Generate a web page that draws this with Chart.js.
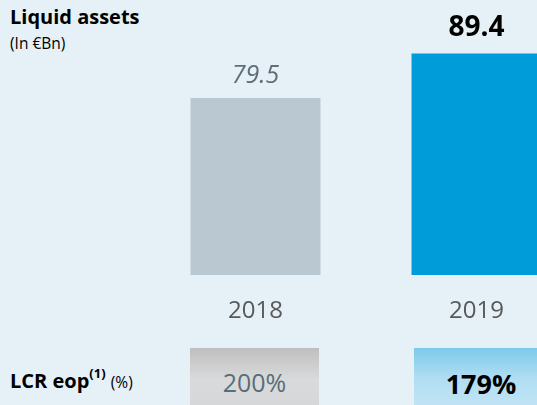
<!DOCTYPE html>
<html>
<head>
<meta charset="utf-8">
<script src="https://cdn.jsdelivr.net/npm/chart.js@4.4.1/dist/chart.umd.min.js"></script>
<style>
    html, body {
        margin: 0;
        padding: 0;
        width: 537px;
        height: 405px;
        overflow: hidden;
        background: #e6f0f7;
        font-family: "Open Sans", sans-serif;
    }
    .title {
        position: absolute;
        left: 10px;
        top: 7px;
        font-size: 20px;
        line-height: 20px;
        font-weight: bold;
        color: #000;
    }
    .unit {
        position: absolute;
        left: 10px;
        top: 35px;
        font-size: 15.5px;
        line-height: 16px;
        color: #000;
    }
    #chartBox {
        position: absolute;
        left: 145px;
        top: 0;
        width: 442px;
        height: 330px;
    }
    .lcrLabel {
        position: absolute;
        left: 10px;
        top: 365px;
        font-size: 20px;
        line-height: 20px;
        font-weight: bold;
        color: #000;
        white-space: nowrap;
    }
    .lcrLabel sup {
        font-size: 13px;
        position: relative;
        top: -2px;
    }
    .lcrLabel .pct {
        font-size: 15.5px;
        font-weight: normal;
    }
    .lcrBox {
        position: absolute;
        top: 348px;
        height: 70px;
        text-align: center;
        white-space: nowrap;
    }
    .lcrBox span {
        position: absolute;
        left: 0;
        right: 0;
        top: 17px;
        line-height: 25px;
    }
</style>
</head>
<body>
<div class="title">Liquid assets</div>
<div class="unit">(In €Bn)</div>
<div id="chartBox"><canvas id="liquidChart"></canvas></div>
<div class="lcrLabel">LCR eop<sup>(1)</sup> <span class="pct">(%)</span></div>
<div id="lcrRow"></div>

<script>
// ===== 数据 =====
const years = ['2018', '2019'];
const liquidAssets = [79.5, 89.4];
const lcrValues = [200, 179];

// ===== 样式 =====
const barColors = ['#bac8d1', '#009bd9'];
const valueFonts = ['italic 25px "Open Sans"', 'bold 28px "Open Sans"'];
const valueColors = ['#5f6f79', '#000000'];
const valueGaps = [15, 18];

const lcrBoxes = [
    { left: 190, width: 129, bg: 'linear-gradient(#bfbfbf 0%, #d9dadb 45%, #d3d6d8 100%)', font: '25px "Open Sans"', color: '#5a6d77' },
    { left: 414, width: 134, bg: 'linear-gradient(#7ccbea 0%, #b2def2 45%, #c6e7f6 100%)', font: 'bold 27px "Open Sans"', color: '#000000' }
];

lcrValues.forEach((v, i) => {
    const b = lcrBoxes[i];
    const div = document.createElement('div');
    div.className = 'lcrBox';
    div.style.left = b.left + 'px';
    div.style.width = b.width + 'px';
    div.style.background = b.bg;
    const span = document.createElement('span');
    span.style.font = b.font;
    span.style.color = b.color;
    span.textContent = v + '%';
    div.appendChild(span);
    document.getElementById('lcrRow').appendChild(div);
});

// 柱顶数值 + 年份标签
const labelPlugin = {
    id: 'barLabels',
    afterDatasetsDraw(chart) {
        const ctx = chart.ctx;
        const meta = chart.getDatasetMeta(0);
        const xScale = chart.scales.x;
        ctx.save();
        ctx.textAlign = 'center';
        ctx.textBaseline = 'alphabetic';
        meta.data.forEach((bar, i) => {
            ctx.font = valueFonts[i];
            ctx.fillStyle = valueColors[i];
            ctx.fillText(liquidAssets[i].toFixed(1), bar.x, bar.y - valueGaps[i]);

            ctx.font = '24px "Open Sans"';
            ctx.fillStyle = '#595959';
            ctx.fillText(years[i], xScale.getPixelForValue(i), chart.chartArea.bottom + 43);
        });
        ctx.restore();
    }
};

const ctx = document.getElementById('liquidChart').getContext('2d');
new Chart(ctx, {
    type: 'bar',
    data: {
        labels: years,
        datasets: [{
            label: 'Liquid assets',
            data: liquidAssets,
            backgroundColor: barColors,
            borderWidth: 0
        }]
    },
    options: {
        responsive: true,
        maintainAspectRatio: false,
        animation: false,
        barPercentage: 0.588,
        categoryPercentage: 1,
        layout: {
            padding: { top: 6, bottom: 55, left: 0, right: 0 }
        },
        plugins: {
            legend: { display: false },
            tooltip: { enabled: false }
        },
        scales: {
            x: { display: false },
            y: { display: false, min: 40, max: 100 }
        }
    },
    plugins: [labelPlugin]
});
</script>
</body>
</html>
